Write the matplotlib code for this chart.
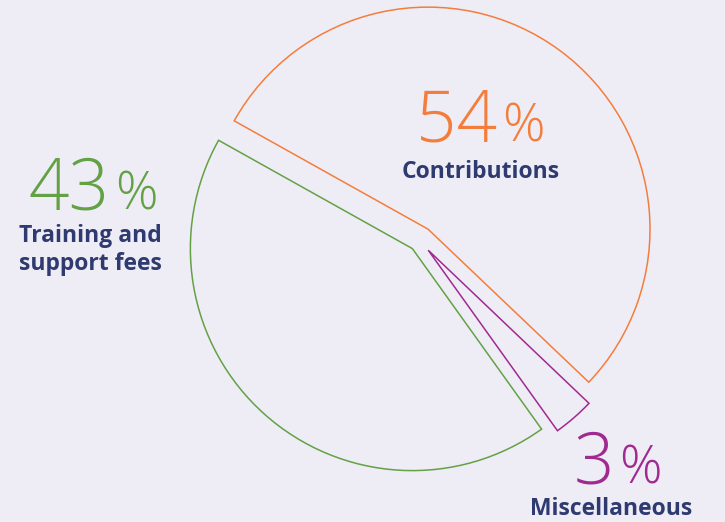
import matplotlib.pyplot as plt

# shares of income, drawn counter-clockwise starting at the lower right
categories = ['Contributions', 'Training and\nsupport fees', 'Miscellaneous']
shares = [54, 43, 3]
pct_text = ['54', '43', '3']
colors = ['#f57d3b', '#64a145', '#a02a8f']
label_color = '#2f3a70'
bg_color = '#eeedf6'

# label anchors (pixels from top-left): split point between number and %
num_pos = [(497, 142), (110, 210), (614, 483)]
name_pos = [(481, 178), (90, 270), (611, 515)]

H = 522


fig = plt.figure(figsize=(7.25, 5.22), dpi=100)
fig.patch.set_facecolor(bg_color)
ax = fig.add_axes([0, 0, 1, 1])
ax.set_facecolor(bg_color)

wedges, _ = ax.pie(shares, explode=[14, 11, 13], startangle=-43.6,
                   counterclock=True, center=(419.7, H - 240.4), radius=222,
                   wedgeprops=dict(linewidth=1.1), frame=True)
for w, c in zip(wedges, colors):
    w.set_facecolor('none')
    w.set_edgecolor(c)

ax.set_xlim(0, 725)
ax.set_ylim(0, H)
ax.set_aspect('equal')
ax.axis('off')

for i in range(len(shares)):
    x, y = num_pos[i]
    ax.text(x, H - y, pct_text[i], color=colors[i], fontsize=51,
            family='Open Sans', fontweight='light', ha='right', va='baseline')
    ax.text(x + 5, H - y, '%', color=colors[i], fontsize=38,
            family='Open Sans', fontweight='light', ha='left', va='baseline')
    nx, ny = name_pos[i]
    ax.text(nx, H - ny, categories[i], color=label_color, fontsize=16.5,
            family='Open Sans', fontweight='bold', ha='center', va='baseline',
            linespacing=1.2)

fig.savefig('out.png', dpi=100, facecolor=bg_color)
